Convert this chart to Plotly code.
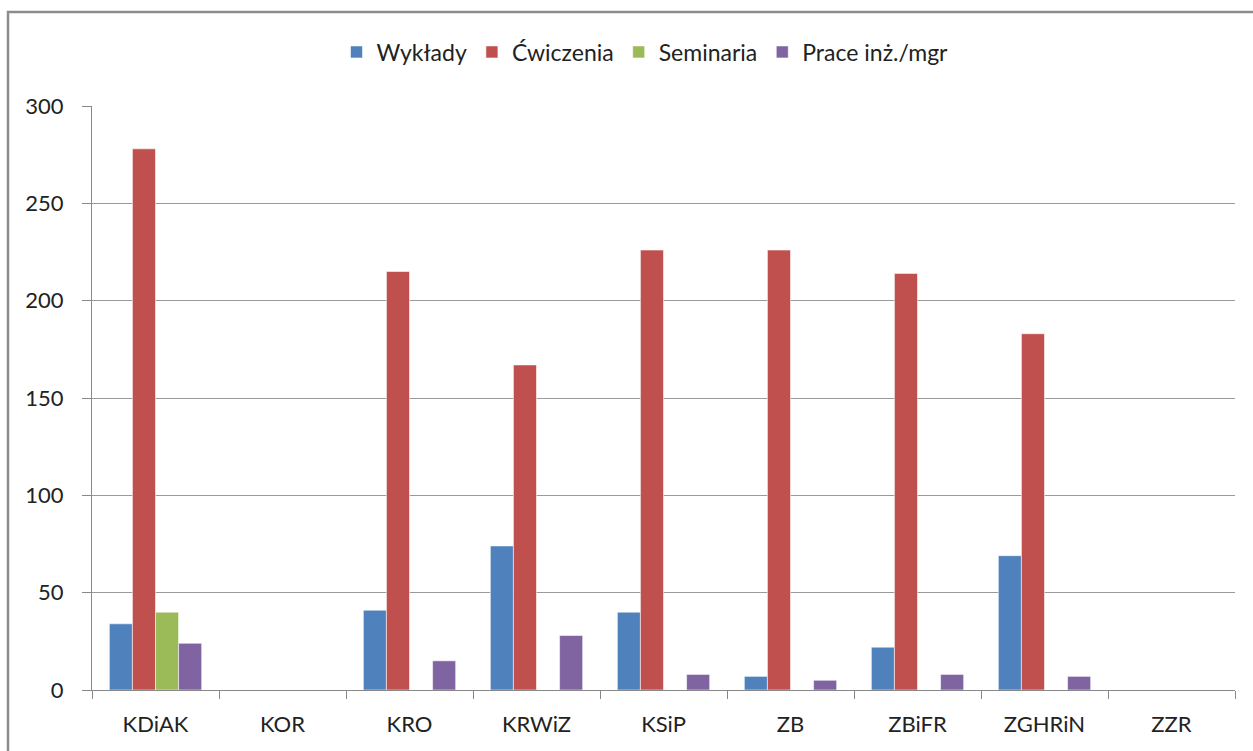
import plotly.graph_objects as go

categories = ["KDiAK", "KOR", "KRO", "KRWiZ", "KSiP", "ZB", "ZBiFR", "ZGHRiN", "ZZR"]
wyklady = [34, None, 41, 74, 40, 7, 22, 69, None]
cwiczenia = [278, None, 215, 167, 226, 226, 214, 183, None]
seminaria = [40, None, None, None, None, None, None, None, None]
prace = [24, None, 15, 28, 8, 5, 8, 7, None]

series_names = ["Wykłady", "Ćwiczenia", "Seminaria", "Prace inż./mgr"]
series_values = [wyklady, cwiczenia, seminaria, prace]
series_colors = ["#4F81BD", "#C0504D", "#9BBB59", "#8064A2"]

y_ticks = [0, 50, 100, 150, 200, 250, 300]

W, H = 1253, 751
L, R, T, B = 92, 18, 106, 61
plot_w = W - L - R
plot_h = H - T - B

fig = go.Figure()
for name, vals, col in zip(series_names, series_values, series_colors):
    fig.add_trace(go.Bar(
        x=categories, y=vals, name=name,
        marker=dict(color=col, line=dict(color="rgba(255,255,255,0.55)", width=1)),
    ))

def px_x(p):
    return (p - L) / plot_w

def px_y(p):
    return (H - B - p) / plot_h

font_family = "Lato, 'Open Sans', sans-serif"
fs = 22

fig.update_layout(
    width=W, height=H,
    margin=dict(l=L, r=R, t=T, b=B),
    paper_bgcolor="white", plot_bgcolor="white",
    barmode="group", bargap=0.273, bargroupgap=0,
    font=dict(family=font_family, size=fs, color="#222"),
    showlegend=True,
    legend=dict(
        orientation="h", x=px_x(645), xanchor="center",
        y=px_y(52), yanchor="middle",
        font=dict(size=fs + 1, color="#222"),
        itemwidth=30, traceorder="normal",
        bgcolor="rgba(0,0,0,0)",
    ),
    xaxis=dict(
        type="category", tickson="boundaries",
        ticks="outside", ticklen=8, tickcolor="#888", tickwidth=1,
        showline=True, linecolor="#888", linewidth=1,
        showgrid=False, ticklabelstandoff=15,
        tickfont=dict(size=fs, color="#222"),
    ),
    yaxis=dict(
        range=[0, 300], tickvals=y_ticks,
        ticks="outside", ticklen=9, tickcolor="#888", tickwidth=1,
        showline=True, linecolor="#888", linewidth=1,
        showgrid=True, gridcolor="#9a9a9a", gridwidth=1,
        zeroline=False, ticklabelstandoff=14,
        tickfont=dict(size=fs, color="#222"),
    ),
    shapes=[dict(
        type="rect", xref="paper", yref="paper",
        x0=px_x(8), x1=px_x(W + 10), y0=px_y(H + 10), y1=px_y(12),
        line=dict(color="#8c8c8c", width=2.5), fillcolor="rgba(0,0,0,0)",
        layer="above",
    )],
)

fig.write_html("out.html")
